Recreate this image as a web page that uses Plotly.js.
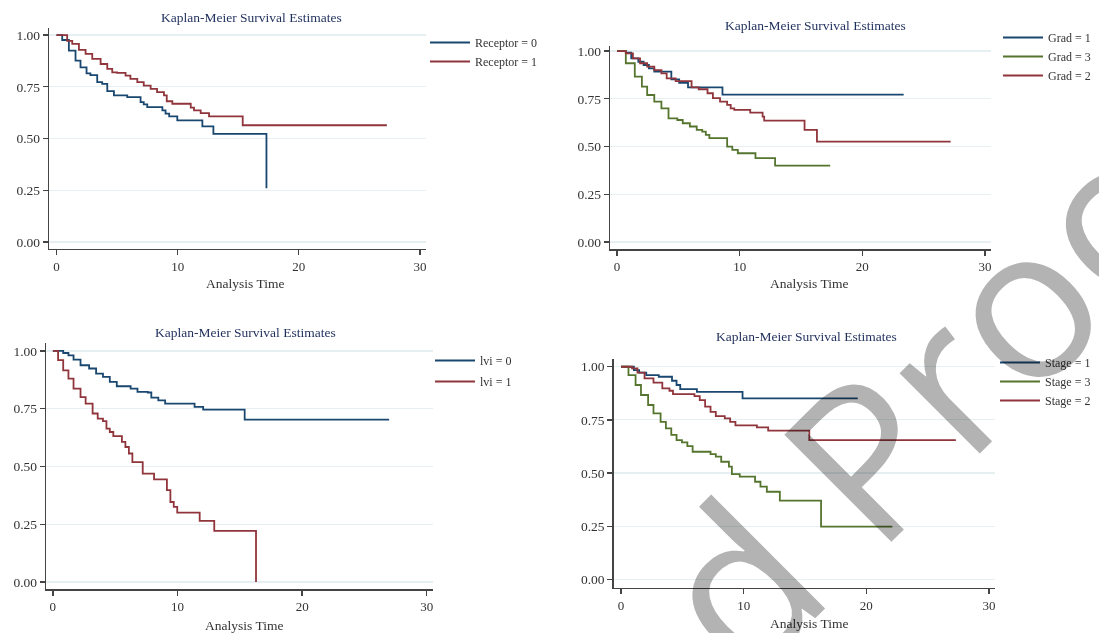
<!DOCTYPE html>
<html>
<head>
<meta charset="utf-8">
<script src="https://cdn.plot.ly/plotly-3.0.1.min.js"></script>
<style>
html,body{margin:0;padding:0;background:#fff;}
#chart{width:1099px;height:633px;}
</style>
</head>
<body>
<div id="chart"></div>
<script>
// ---- data ----
const chartTitle = "Kaplan-Meier Survival Estimates";
const xTitle = "Analysis Time";
const xTicks = [0, 10, 20, 30];
const yTicks = [0, 0.25, 0.5, 0.75, 1];

// Panel 1: Receptor
const receptor0Time = [0, 0.47, 1.02, 1.57, 1.98, 2.48, 2.8, 3.36, 3.77, 4.19, 4.74, 5.84, 6.94, 7.2, 7.49, 8.74, 9.0, 9.3, 9.97, 12.04, 12.95, 17.33];
const receptor0Surv = [1, 0.976, 0.925, 0.876, 0.844, 0.815, 0.806, 0.772, 0.764, 0.729, 0.708, 0.70, 0.676, 0.665, 0.652, 0.636, 0.62, 0.607, 0.588, 0.559, 0.522, 0.26];
const receptor1Time = [0, 0.88, 1.3, 1.85, 2.4, 2.95, 3.64, 4.19, 4.6, 5.0, 5.7, 6.1, 6.67, 7.2, 7.77, 8.3, 8.87, 9.1, 9.56, 11.08, 11.35, 11.9, 12.59, 15.37, 27.27];
const receptor1Surv = [1, 0.972, 0.957, 0.928, 0.909, 0.885, 0.86, 0.836, 0.82, 0.817, 0.804, 0.788, 0.772, 0.756, 0.74, 0.724, 0.708, 0.68, 0.668, 0.649, 0.636, 0.623, 0.607, 0.564, 0.564];

// Panel 2: Grad
const grad1Time = [0, 0.72, 1.16, 1.74, 2.17, 2.6, 3.04, 4.43, 5.07, 5.79, 8.6, 23.37];
const grad1Surv = [1, 0.991, 0.962, 0.944, 0.927, 0.909, 0.892, 0.852, 0.834, 0.81, 0.772, 0.772];
const grad3Time = [0, 0.72, 1.45, 2.03, 2.46, 3.04, 3.62, 4.2, 4.92, 5.36, 5.94, 6.5, 6.95, 7.24, 7.53, 8.98, 9.4, 9.85, 11.29, 12.89, 17.38];
const grad3Surv = [1, 0.936, 0.866, 0.814, 0.77, 0.735, 0.70, 0.648, 0.639, 0.622, 0.605, 0.587, 0.578, 0.561, 0.544, 0.5, 0.483, 0.465, 0.439, 0.40, 0.40];
const grad2Time = [0, 0.72, 1.3, 1.88, 2.46, 3.04, 3.62, 4.05, 4.78, 6.08, 6.66, 7.38, 7.82, 8.4, 8.98, 9.27, 9.56, 10.86, 11.87, 12.0, 15.29, 16.3, 27.2];
const grad2Surv = [1, 0.988, 0.962, 0.936, 0.918, 0.9, 0.883, 0.857, 0.843, 0.81, 0.8, 0.779, 0.753, 0.735, 0.718, 0.7, 0.692, 0.678, 0.657, 0.636, 0.587, 0.526, 0.526];

// Panel 3: lvi
const lvi0Time = [0, 0.83, 1.25, 1.66, 2.22, 2.91, 3.47, 4.02, 4.57, 5.13, 6.24, 6.79, 7.62, 7.9, 8.46, 9.01, 11.37, 12.06, 15.39, 26.98];
const lvi0Surv = [1, 0.991, 0.981, 0.962, 0.938, 0.924, 0.902, 0.888, 0.866, 0.847, 0.837, 0.823, 0.82, 0.798, 0.786, 0.772, 0.758, 0.746, 0.703, 0.703];
const lvi1Time = [0, 0.42, 0.83, 1.25, 1.66, 2.22, 2.63, 3.19, 3.6, 4.02, 4.3, 4.57, 4.85, 5.54, 5.82, 6.1, 6.38, 7.21, 8.12, 9.15, 9.43, 9.7, 9.98, 11.78, 12.95, 16.3];
const lvi1Surv = [1, 0.96, 0.916, 0.88, 0.837, 0.80, 0.772, 0.729, 0.707, 0.696, 0.664, 0.649, 0.631, 0.606, 0.584, 0.556, 0.519, 0.469, 0.444, 0.397, 0.346, 0.325, 0.30, 0.264, 0.221, 0];

// Panel 4: Stage
const stage1Time = [0, 1.05, 1.48, 2.06, 3.08, 4.16, 4.53, 4.83, 6.19, 9.91, 19.3];
const stage1Surv = [1, 0.984, 0.972, 0.961, 0.953, 0.934, 0.914, 0.895, 0.882, 0.851, 0.851];
const stage3Time = [0, 0.61, 1.19, 1.63, 2.21, 2.65, 3.23, 3.66, 4.1, 4.53, 4.97, 5.41, 5.84, 7.3, 7.73, 8.17, 8.8, 9.04, 9.68, 10.93, 11.37, 11.89, 12.95, 16.31, 22.12];
const stage3Surv = [1, 0.961, 0.914, 0.867, 0.82, 0.781, 0.741, 0.71, 0.679, 0.655, 0.644, 0.627, 0.6, 0.589, 0.577, 0.553, 0.53, 0.495, 0.483, 0.459, 0.436, 0.412, 0.37, 0.248, 0.248];
const stage2Time = [0, 0.9, 1.34, 1.92, 2.65, 3.37, 3.95, 4.24, 5.99, 6.42, 6.86, 7.3, 7.73, 8.46, 8.9, 9.33, 11.08, 12.0, 15.35, 27.3];
const stage2Surv = [1, 0.992, 0.972, 0.945, 0.925, 0.898, 0.887, 0.871, 0.862, 0.843, 0.812, 0.788, 0.768, 0.757, 0.741, 0.724, 0.715, 0.699, 0.655, 0.655];

const watermarkText = "d Proof";

// ---- styling ----
const NAVY = "#1a476f", MAROON = "#90353b", GREEN = "#55752f";
const FONT = "Liberation Serif, DejaVu Serif, serif";
const W = 1099, H = 633;

function tr(x, y, name, color, ax, lg) {
  return {
    x: x, y: y, name: name, type: "scatter", mode: "lines",
    line: {shape: "hv", color: color, width: 1.8},
    xaxis: "x" + (ax === 1 ? "" : ax), yaxis: "y" + (ax === 1 ? "" : ax),
    legend: lg, legendgroup: name, hoverinfo: "skip"
  };
}

const data = [
  tr(receptor0Time, receptor0Surv, "Receptor = 0", NAVY, 1, "legend"),
  tr(receptor1Time, receptor1Surv, "Receptor = 1", MAROON, 1, "legend"),
  tr(grad1Time, grad1Surv, "Grad = 1", NAVY, 2, "legend2"),
  tr(grad3Time, grad3Surv, "Grad = 3", GREEN, 2, "legend2"),
  tr(grad2Time, grad2Surv, "Grad = 2", MAROON, 2, "legend2"),
  tr(lvi0Time, lvi0Surv, "lvi = 0", NAVY, 3, "legend3"),
  tr(lvi1Time, lvi1Surv, "lvi = 1", MAROON, 3, "legend3"),
  tr(stage1Time, stage1Surv, "Stage = 1", NAVY, 4, "legend4"),
  tr(stage3Time, stage3Surv, "Stage = 3", GREEN, 4, "legend4"),
  tr(stage2Time, stage2Surv, "Stage = 2", MAROON, 4, "legend4")
];

// panel geometry in pixels: [left, right, top, bottom], axis ranges, title / axis-title centres
const panels = [
  {px: [49, 426, 28, 249], xr: [-0.62, 30.5], yr: [-0.034, 1.034], t: [251, 17], at: [245, 283]},
  {px: [610, 991, 45.7, 249.3], xr: [-0.57, 30.49], yr: [-0.038, 1.028], t: [815, 25], at: [809, 283]},
  {px: [46, 433, 343.3, 589.3], xr: [-0.55, 30.5], yr: [-0.032, 1.033], t: [245, 332], at: [244, 625]},
  {px: [613.5, 995, 359.3, 587.7], xr: [-0.61, 30.49], yr: [-0.0395, 1.035], t: [806, 336], at: [809, 623]}
];

const layout = {
  width: W, height: H,
  margin: {l: 0, r: 0, t: 0, b: 0},
  paper_bgcolor: "#fff", plot_bgcolor: "#fff",
  font: {family: FONT, size: 12, color: "#333"},
  showlegend: true,
  annotations: [],
  hovermode: false
};

panels.forEach((p, i) => {
  const k = i === 0 ? "" : String(i + 1);
  layout["xaxis" + k] = {
    domain: [p.px[0] / W, p.px[1] / W], range: p.xr, anchor: "y" + k,
    tickvals: xTicks, ticktext: xTicks.map(String),
    showline: true, linecolor: "#444", linewidth: 1.3,
    ticks: "outside", ticklen: 5, tickwidth: 1.3, tickcolor: "#444",
    showgrid: false, zeroline: false,
    tickfont: {family: FONT, size: 13, color: "#333"}
  };
  layout["yaxis" + k] = {
    domain: [1 - p.px[3] / H, 1 - p.px[2] / H], range: p.yr, anchor: "x" + k,
    tickvals: yTicks, ticktext: yTicks.map(v => v.toFixed(2)),
    showline: true, linecolor: "#444", linewidth: 1.3,
    ticks: "outside", ticklen: 5, tickwidth: 1.3, tickcolor: "#444",
    showgrid: true, gridcolor: "#e6eff2", gridwidth: 1.2, zeroline: false,
    tickfont: {family: FONT, size: 13.5, color: "#333"}
  };
  layout.annotations.push({
    text: chartTitle, xref: "paper", yref: "paper", showarrow: false,
    x: p.t[0] / W, y: 1 - p.t[1] / H, xanchor: "center", yanchor: "middle",
    font: {family: FONT, size: 13.5, color: "#1f2f5c"}
  });
  layout.annotations.push({
    text: xTitle, xref: "paper", yref: "paper", showarrow: false,
    x: p.at[0] / W, y: 1 - p.at[1] / H, xanchor: "center", yanchor: "middle",
    font: {family: FONT, size: 13.5, color: "#333"}
  });
});

// legend boxes: [left px, top px, font size, gap]
const legendPos = [[425, 28, 12, 0], [998, 23, 12, 0], [430, 346, 12, 2], [995, 348, 12, 0]];
["legend", "legend2", "legend3", "legend4"].forEach((lg, i) => {
  layout[lg] = {
    x: legendPos[i][0] / W, y: 1 - legendPos[i][1] / H, xanchor: "left", yanchor: "top",
    bgcolor: "rgba(0,0,0,0)", borderwidth: 0,
    font: {family: FONT, size: legendPos[i][2], color: "#333"},
    itemwidth: 40, tracegroupgap: legendPos[i][3]
  };
});

// watermark
layout.annotations.push({
  text: watermarkText, xref: "paper", yref: "paper", showarrow: false,
  x: 947 / W, y: 1 - 369 / H, xanchor: "center", yanchor: "middle",
  textangle: -45,
  font: {family: "Open Sans, DejaVu Sans, sans-serif", size: 212, color: "#b3b3b3"}
});

Plotly.newPlot("chart", data, layout, {staticPlot: true}).then(() => {
  const anns = document.querySelectorAll(".annotation");
  const wm = anns[anns.length - 1];
  if (wm) wm.style.mixBlendMode = "multiply";
});
</script>
</body>
</html>
